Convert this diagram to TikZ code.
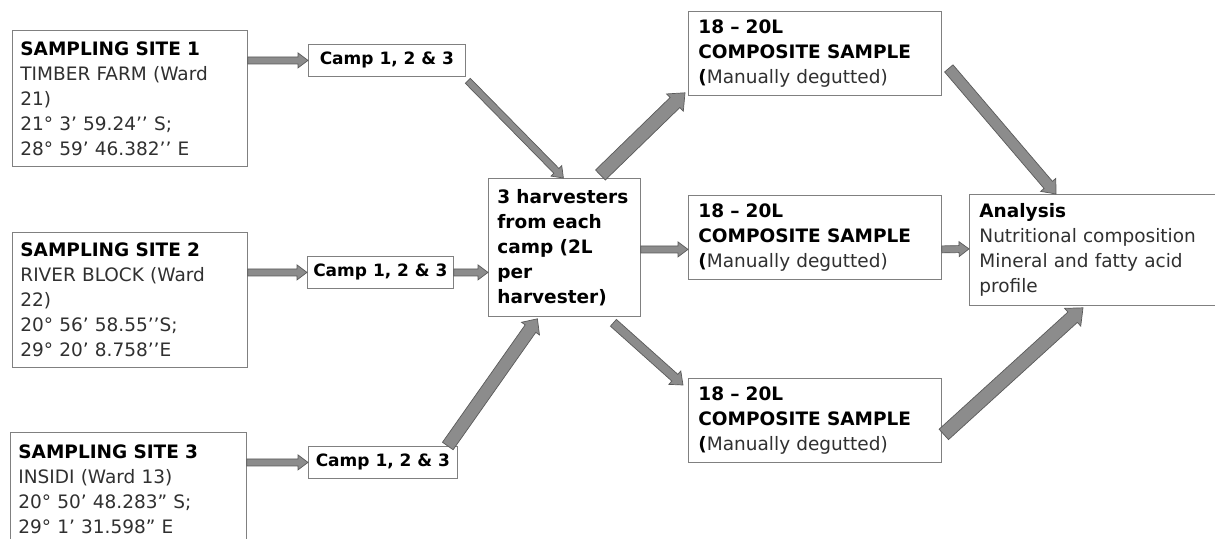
\documentclass[tikz,border=0pt]{standalone}
\usepackage{fontspec}
\setmainfont{DejaVu Sans}
\usetikzlibrary{calc}
\definecolor{arrfill}{HTML}{8C8C8C}
\definecolor{arrline}{HTML}{5A5A5A}
\definecolor{boxline}{HTML}{808080}
\definecolor{txt}{HTML}{303030}
\newcommand\hd[1]{\textbf{\color{black}#1}}
\newcommand\blockarrow[5]{%
  \path (#1) coordinate (bA) (#2) coordinate (bB);
  \path ($(bB)!#5!(bA)$) coordinate (bH);
  \filldraw[barrow] ($(bA)!#3!90:(bB)$) -- ($(bH)!#3!-90:(bA)$) -- ($(bH)!#4!-90:(bA)$) -- (bB)
     -- ($(bH)!#4!90:(bA)$) -- ($(bH)!#3!90:(bA)$) -- ($(bA)!#3!-90:(bB)$) -- cycle;}
\tikzset{
  box/.style={draw=boxline, line width=0.8pt, fill=white, inner ysep=0pt, inner xsep=8pt,
    align=left, anchor=north west, text=txt, font=\fontsize{18.5}{25}\selectfont},
  campbox/.style={draw=boxline, line width=0.8pt, fill=white, inner sep=0pt, align=center,
    anchor=north west, text=black, font=\bfseries\fontsize{17}{20}\selectfont},
  barrow/.style={fill=arrfill, draw=arrline, line width=0.7pt, line join=miter}
}
\begin{document}
\begin{tikzpicture}[x=1pt, y=-1pt]
\useasboundingbox (0,0) rectangle (1215,538);
% sampling sites
\node[box, minimum width=235pt, minimum height=136pt, text width=219pt] (s1) at (12,30)
  {\hd{SAMPLING SITE 1}\\TIMBER FARM (Ward\\21)\\21° 3’ 59.24’’ S;\\28° 59’ 46.382’’ E};
\node[box, minimum width=235pt, minimum height=135pt, text width=219pt] (s2) at (12,232)
  {\hd{SAMPLING SITE 2}\\RIVER BLOCK (Ward\\22)\\20° 56’ 58.55’’S;\\29° 20’ 8.758’’E};
\node[box, minimum width=236pt, minimum height=114pt, text width=220pt] (s3) at (10,432)
  {\hd{SAMPLING SITE 3}\\INSIDI (Ward 13)\\20° 50’ 48.283” S;\\29° 1’ 31.598” E};
% camps
\node[campbox, minimum width=157pt, minimum height=32pt] (c1) at (308,44) {Camp 1, 2 \& 3};
\node[campbox, minimum width=146pt, minimum height=32pt] (c2) at (307,256) {Camp 1, 2 \& 3};
\node[campbox, minimum width=149pt, minimum height=32pt] (c3) at (308,446) {Camp 1, 2 \& 3};
% harvesters
\node[box, inner xsep=9pt, minimum width=152pt, minimum height=138pt, text width=134pt, text=black] (h) at (488,178)
  {\bfseries 3 harvesters\\from each\\camp (2L\\per\\harvester)};
% composite samples
\node[box, inner xsep=10pt, minimum width=253pt, minimum height=84pt, text width=233pt] (k1) at (688,11)
  {\hd{18 – 20L}\\\hd{COMPOSITE SAMPLE}\\\hd{(}Manually degutted)};
\node[box, inner xsep=10pt, minimum width=253pt, minimum height=84pt, text width=233pt] (k2) at (688,195)
  {\hd{18 – 20L}\\\hd{COMPOSITE SAMPLE}\\\hd{(}Manually degutted)};
\node[box, inner xsep=10pt, minimum width=253pt, minimum height=84pt, text width=233pt] (k3) at (688,378)
  {\hd{18 – 20L}\\\hd{COMPOSITE SAMPLE}\\\hd{(}Manually degutted)};
% analysis
\node[box, inner xsep=10pt, minimum width=256pt, minimum height=111pt, text width=236pt] (a) at (969,194)
  {\hd{Analysis}\\Nutritional composition\\Mineral and fatty acid\\profile};
% arrows
\blockarrow{s1.east |- c1.west}{c1.west}{3.5pt}{7.5pt}{10pt}
\blockarrow{s2.east |- c2.west}{c2.west}{3.5pt}{7.5pt}{10pt}
\blockarrow{s3.east |- c3.west}{c3.west}{3.5pt}{7.5pt}{10pt}
\blockarrow{$(c1.south east)+(2,4)$}{$(h.north)+(-1,0)$}{3.5pt}{7.5pt}{10pt}
\blockarrow{c2.east}{h.west |- c2.east}{3.5pt}{7.5pt}{10pt}
\blockarrow{$(c3.north east)+(-10,0)$}{$(h.south)+(-27,2)$}{6.5pt}{11pt}{12pt}
\blockarrow{$(h.north)+(36,-3)$}{$(k1.south west)+(-3,-3)$}{7pt}{12pt}{14pt}
\blockarrow{$(h.east)+(0,2)$}{$(k2.west)+(0,12)$}{3.5pt}{7.5pt}{10pt}
\blockarrow{$(h.south)+(49,6)$}{$(k3.north west)+(-5,7)$}{4.5pt}{9pt}{11pt}
\blockarrow{$(k1.east)+(7,15)$}{$(a.north west)+(87,0)$}{5.5pt}{10pt}{12pt}
\blockarrow{$(k2.east)+(0,12)$}{$(a.west)+(0,-1)$}{3.5pt}{7.5pt}{10pt}
\blockarrow{$(k3.east)+(2,14)$}{$(a.south west)+(114,2)$}{7pt}{12pt}{14pt}
\end{tikzpicture}
\end{document}
